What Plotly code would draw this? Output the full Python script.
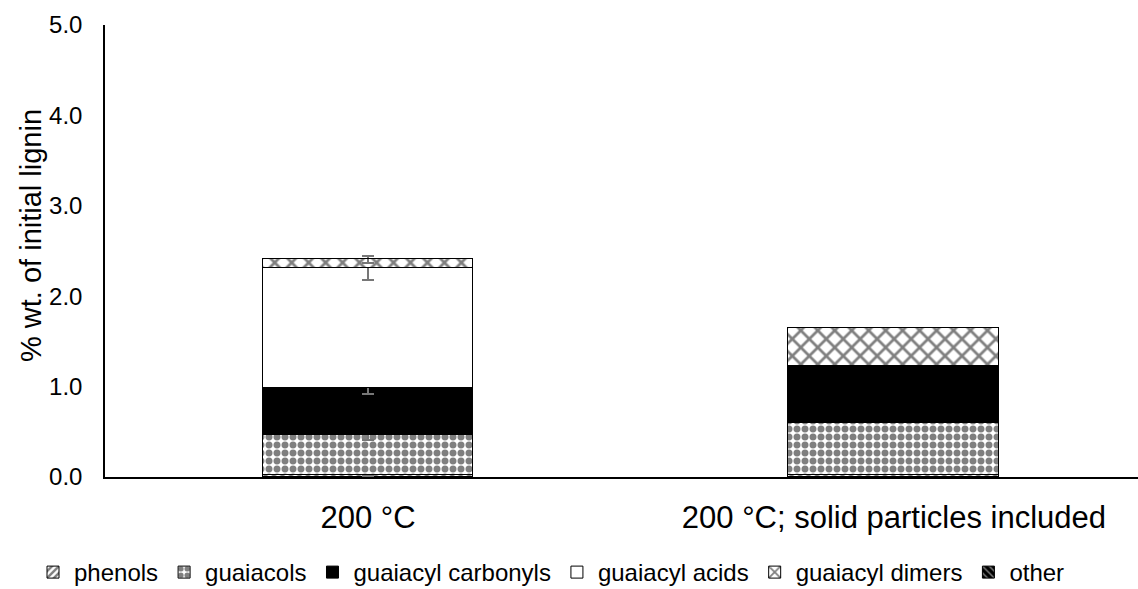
import plotly.graph_objects as go

categories = ["200 °C", "200 °C; solid particles included"]
series_names = ["phenols", "guaiacols", "guaiacyl carbonyls", "guaiacyl acids", "guaiacyl dimers", "other"]
phenols = [0.02, 0.02]
guaiacols = [0.44, 0.58]
carbonyls = [0.53, 0.63]
acids = [1.32, 0.0]
dimers = [0.10, 0.42]
other = [0.0, 0.0]
# error bars are only reported for the first category
phenols_err = [0.01, None]
guaiacols_err = [0.05, None]
carbonyls_err = [0.07, None]
acids_err = [0.13, None]
dimers_err = [0.04, None]
other_err = [None, None]

values = [phenols, guaiacols, carbonyls, acids, dimers, other]
errors = [phenols_err, guaiacols_err, carbonyls_err, acids_err, dimers_err, other_err]
styles = [
    dict(color="white", pattern=dict(shape="/", fgcolor="black", bgcolor="white", size=6, solidity=0.5)),
    dict(color="white", pattern=dict(shape=".", fgcolor="black", bgcolor="white", size=8, solidity=0.6)),
    dict(color="black"),
    dict(color="white"),
    dict(color="white", pattern=dict(shape="x", fgcolor="black", bgcolor="white", size=12, solidity=0.4)),
    dict(color="black", pattern=dict(shape="\\", fgcolor="white", bgcolor="black", size=6, solidity=0.3)),
]

fig = go.Figure()
for name, vals, errs, st in zip(series_names, values, errors, styles):
    for i, cat in enumerate(categories):
        v = vals[i]
        if v is None or (v == 0 and i > 0):
            continue
        e = errs[i]
        fig.add_trace(go.Bar(
            x=[i], y=[v], name=name, legendgroup=name, showlegend=(i == 0),
            width=0.401,
            marker=dict(line=dict(color="black", width=1), **st),
            error_y=dict(type="data", array=[e if e is not None else 0], visible=e is not None,
                         color="#777777", thickness=2, width=6),
        ))

fig.update_layout(
    barmode="stack",
    width=1138, height=589,
    margin=dict(l=105, r=0, t=25, b=112, autoexpand=False),
    plot_bgcolor="white", paper_bgcolor="white",
    font=dict(family="Liberation Sans, Arial, sans-serif", color="black"),
    showlegend=True,
    legend=dict(orientation="h", x=(46 - 14 - 105) / 1033, xanchor="left",
                y=-(595 - 477) / 452, yanchor="bottom",
                font=dict(size=24), traceorder="normal", itemwidth=32),
    bargap=0,
    annotations=[dict(text="% wt. of initial lignin", textangle=-90, showarrow=False,
                      xref="paper", yref="paper", x=(31 - 105) / 1033, y=(477 - 236) / 452,
                      xanchor="center", yanchor="middle", font=dict(size=29))],
)
fig.update_xaxes(
    range=[-0.5, 1.464], tickmode="array", tickvals=[0, 1], ticktext=categories,
    showline=True, linecolor="black", linewidth=2, showgrid=False, zeroline=False,
    ticks="", tickfont=dict(size=31), ticklabelstandoff=12, automargin=False,
)
fig.update_yaxes(
    range=[0, 5], dtick=1, tickformat=".1f",
    showline=True, linecolor="black", linewidth=1.5, showgrid=False, zeroline=False,
    ticks="", tickfont=dict(size=24), ticklabelstandoff=16, automargin=False,
)

fig.write_html("out.html")
